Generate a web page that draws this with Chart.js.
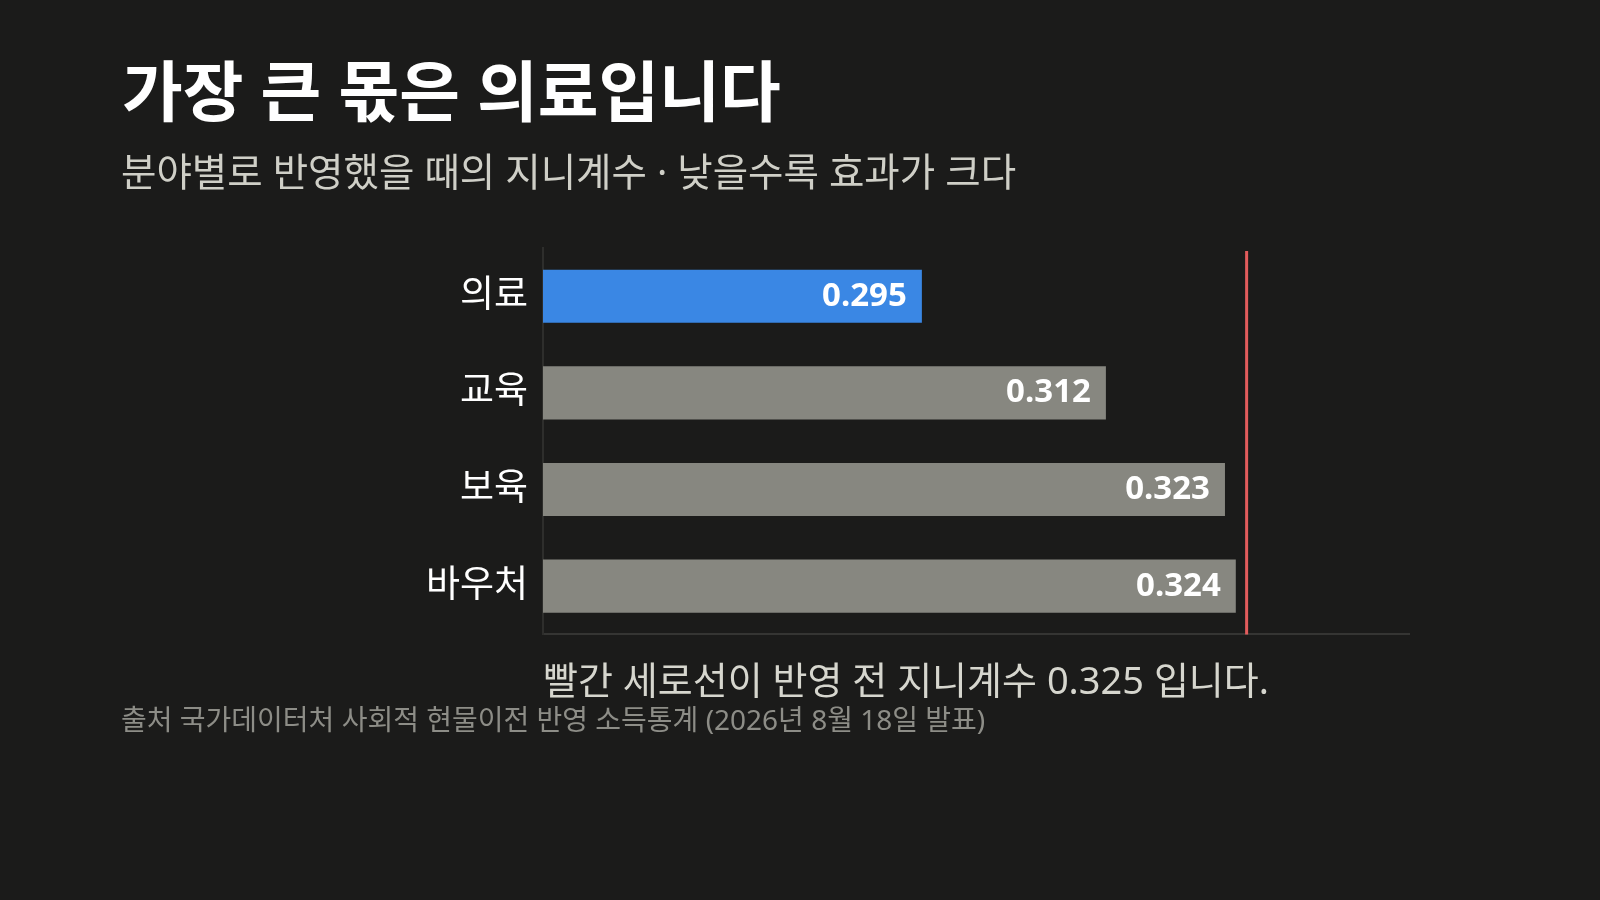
<!DOCTYPE html>
<html lang="ko">
<head>
<meta charset="utf-8">
<title>가장 큰 몫은 의료입니다</title>
<script src="https://cdn.jsdelivr.net/npm/chart.js@4.4.1/dist/chart.umd.min.js"></script>
<style>
  html, body { margin: 0; padding: 0; }
  body {
    width: 1600px; height: 900px; position: relative; overflow: hidden;
    background: #1b1b1a;
    font-family: 'Noto Sans', 'Noto Sans CJK KR', sans-serif;
  }
  #wrap { position: absolute; left: 0; top: 0; width: 1600px; height: 900px; }
  .txt { position: absolute; white-space: nowrap; line-height: 1; }
  #title { left: 122px; top: 57px; font-size: 66px; font-weight: 700; color: #ffffff; }
  #subtitle { left: 121px; top: 152px; font-size: 38.5px; color: #cfcfc7; }
  #source { left: 121px; top: 705px; font-size: 28px; color: #8d8d87; }
</style>
</head>
<body>
<div id="wrap"><canvas id="chart"></canvas></div>
<div class="txt" id="title">가장 큰 몫은 의료입니다</div>
<div class="txt" id="subtitle">분야별로 반영했을 때의 지니계수 · 낮을수록 효과가 크다</div>
<div class="txt" id="source">출처 국가데이터처 사회적 현물이전 반영 소득통계 (2026년 8월 18일 발표)</div>

<script>
// data
const categories = ['의료', '교육', '보육', '바우처'];
const giniValues = [0.295, 0.312, 0.323, 0.324];
const beforeGini = 0.325;   // red reference line
const highlight = '의료';

const FONT = "'Noto Sans', 'Noto Sans CJK KR', sans-serif";

const barColors = categories.map(c => c === highlight ? '#3a87e4' : '#878780');

// value labels inside the bar end
const valueLabels = {
  id: 'valueLabels',
  afterDatasetsDraw(chart) {
    const ctx = chart.ctx;
    const meta = chart.getDatasetMeta(0);
    ctx.save();
    ctx.font = '700 33px ' + FONT;
    ctx.fillStyle = '#ffffff';
    ctx.textAlign = 'right';
    ctx.textBaseline = 'middle';
    meta.data.forEach((bar, i) => {
      ctx.fillText(giniValues[i].toFixed(3), bar.x - 15, bar.y);
    });
    ctx.restore();
  }
};

// vertical line for the gini before transfers
const refLine = {
  id: 'refLine',
  afterDatasetsDraw(chart) {
    const { ctx, chartArea, scales } = chart;
    const x = scales.x.getPixelForValue(beforeGini);
    ctx.save();
    ctx.strokeStyle = '#e25c5c';
    ctx.lineWidth = 3;
    ctx.beginPath();
    ctx.moveTo(x, chartArea.top + 3);
    ctx.lineTo(x, chartArea.bottom);
    ctx.stroke();
    ctx.restore();
  }
};

new Chart(document.getElementById('chart').getContext('2d'), {
  type: 'bar',
  data: {
    labels: categories,
    datasets: [{
      data: giniValues,
      backgroundColor: barColors,
      borderWidth: 0,
      barPercentage: 0.55,
      categoryPercentage: 1
    }]
  },
  options: {
    indexAxis: 'y',
    responsive: true,
    maintainAspectRatio: false,
    animation: false,
    layout: { padding: { left: 0, top: 248, right: 191, bottom: 194 } },
    plugins: {
      legend: { display: false },
      tooltip: { enabled: false }
    },
    scales: {
      x: {
        min: 0.26,
        max: 0.34,
        grid: { color: 'transparent', drawTicks: false },
        border: { color: '#353533', width: 2 },
        ticks: { display: false },
        title: {
          display: true,
          align: 'start',
          text: '빨간 세로선이 반영 전 지니계수 0.325 입니다.',
          color: '#d6d6ce',
          font: { family: FONT, size: 38 },
          padding: { top: 26, bottom: 0 }
        }
      },
      y: {
        grid: { color: 'transparent', drawTicks: false },
        border: { color: '#2e2e2c', width: 2 },
        ticks: {
          color: '#ffffff',
          padding: 15,
          font: { family: FONT, size: 37 }
        },
        afterFit(scale) { scale.width = 543; }
      }
    }
  },
  plugins: [valueLabels, refLine]
});
</script>
</body>
</html>
